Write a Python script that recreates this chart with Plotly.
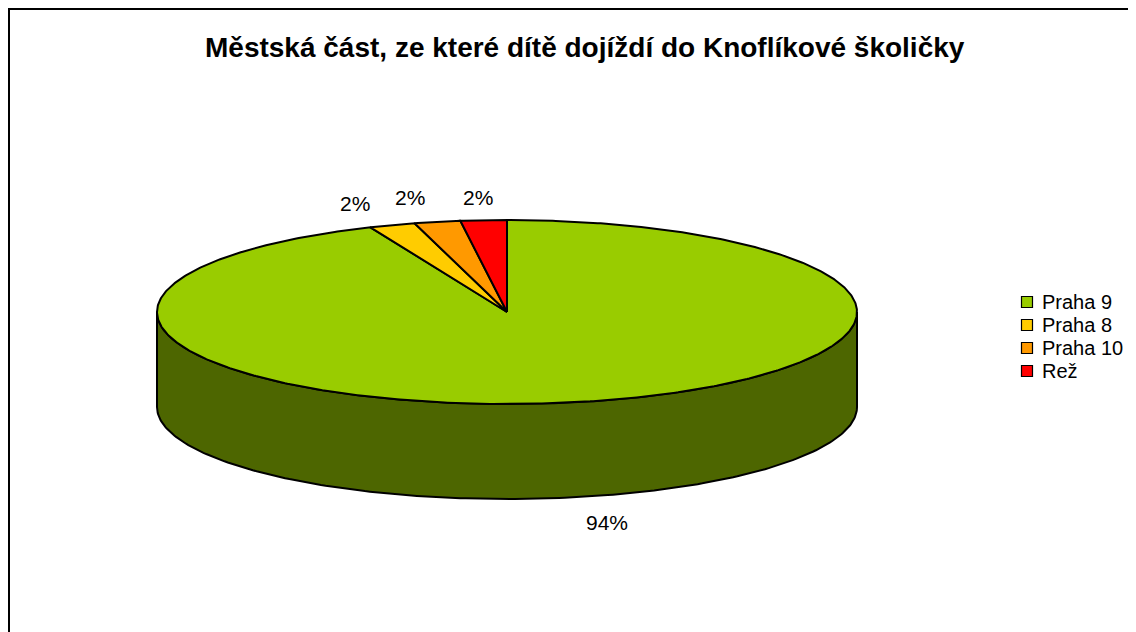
import numpy as np
import plotly.graph_objects as go

# data
districts = ['Praha 9', 'Praha 8', 'Praha 10', 'Rež']
children = [44, 1, 1, 1]
top_colors = ['#99CC00', '#FFCC00', '#FF9900', '#FF0000']
side_colors = ['#4D6600', '#806600', '#804C00', '#800000']
title = 'Městská část, ze které dítě dojíždí do Knoflíkové školičky'

# pie geometry (page pixel space)
CX, CY = 507, 312
RX, RY = 350, 92
DEPTH = 95
LABEL_POS = [(607, 522), (355, 203), (410, 197), (478, 197)]
LEG_X, LEG_Y, LEG_STEP = 1027, 302, 23
FONT = 'Liberation Sans, Arial, sans-serif'
PAGE_OFFSET = 8  # default body margin of the html page


def ellipse_pt(theta_deg, drop=0):
    t = np.radians(theta_deg)
    return CX + RX * np.sin(t), CY - RY * np.cos(t) + drop


vals = np.array(children, dtype=float)
shares = vals / vals.sum()
edges = np.concatenate([[0], np.cumsum(shares) * 360])

fig = go.Figure()

# front wall of the cylinder (only the part between 90 and 270 deg is visible)
for i in range(len(districts)):
    a0, a1 = max(edges[i], 90), min(edges[i + 1], 270)
    if a1 <= a0:
        continue
    th = np.linspace(a0, a1, 200)
    tx, ty = ellipse_pt(th)
    bx, by = ellipse_pt(th[::-1], DEPTH)
    fig.add_trace(go.Scatter(
        x=np.concatenate([tx, bx, tx[:1]]),
        y=np.concatenate([ty, by, ty[:1]]),
        fill='toself', fillcolor=side_colors[i], mode='lines',
        line=dict(color='black', width=2),
        hoverinfo='skip', showlegend=False
    ))

# top faces of the slices
for i, name in enumerate(districts):
    th = np.linspace(edges[i], edges[i + 1], max(int((edges[i + 1] - edges[i]) * 2), 10))
    ax, ay = ellipse_pt(th)
    fig.add_trace(go.Scatter(
        x=np.concatenate([[CX], ax, [CX]]),
        y=np.concatenate([[CY], ay, [CY]]),
        fill='toself', fillcolor=top_colors[i], mode='lines',
        line=dict(color='black', width=2),
        name=name, hoverinfo='name', showlegend=False
    ))

# legend (drawn by hand so the row spacing matches)
leg_y = [LEG_Y + LEG_STEP * i for i in range(len(districts))]
fig.add_trace(go.Scatter(
    x=[LEG_X] * len(districts), y=leg_y, mode='markers',
    marker=dict(symbol='square', size=11, color=top_colors,
                line=dict(color='black', width=1.2)),
    hoverinfo='skip', showlegend=False
))
for name, ly in zip(districts, leg_y):
    fig.add_annotation(x=LEG_X + 13, y=ly, xref='x', yref='y', text=name,
                       xanchor='left', showarrow=False,
                       font=dict(family=FONT, size=20, color='black'))

# percentage labels
for (lx, ly), s in zip(LABEL_POS, shares):
    fig.add_annotation(x=lx, y=ly, xref='x', yref='y', text=f'{s * 100:.0f}%',
                       showarrow=False, font=dict(family=FONT, size=21, color='black'))

fig.add_annotation(x=585, y=47, xref='x', yref='y', text=f'<b>{title}</b>',
                   showarrow=False, font=dict(family=FONT, size=28, color='black'))

# chart frame (left and top edges are the visible ones)
fig.add_shape(type='rect', xref='x', yref='y', x0=9, y0=9, x1=1150, y1=650,
              line=dict(color='black', width=2))

fig.update_xaxes(range=[PAGE_OFFSET, 1136 + PAGE_OFFSET], visible=False, fixedrange=True)
fig.update_yaxes(range=[632 + PAGE_OFFSET, PAGE_OFFSET], visible=False, fixedrange=True)

fig.update_layout(
    width=1136, height=632,
    margin=dict(l=0, r=0, t=0, b=0),
    paper_bgcolor='white', plot_bgcolor='white',
    font=dict(family=FONT, size=20, color='black'),
    showlegend=False
)

fig.write_html('out.html')
